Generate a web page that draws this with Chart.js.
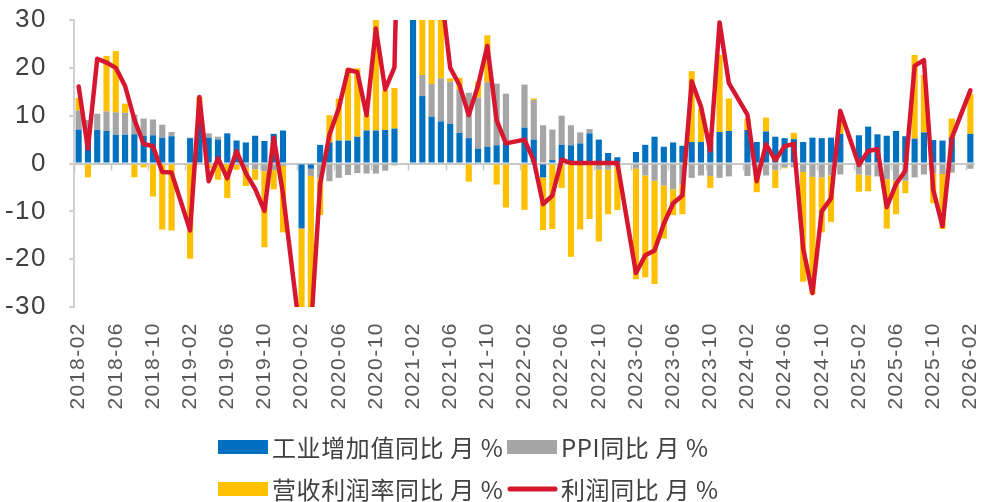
<!DOCTYPE html>
<html><head><meta charset="utf-8">
<script src="https://cdn.jsdelivr.net/npm/chart.js@4.4.1/dist/chart.umd.min.js"></script>
<style>html,body{margin:0;padding:0;background:#fff;}#wrap{width:994px;height:502px;position:relative;}</style>
</head><body><div id="wrap"><canvas id="c" width="994" height="502"></canvas></div>
<script>
const months = [
'2018-02','2018-03','2018-04','2018-05','2018-06','2018-07','2018-08','2018-09','2018-10','2018-11','2018-12',
'2019-01','2019-02','2019-03','2019-04','2019-05','2019-06','2019-07','2019-08','2019-09','2019-10','2019-11','2019-12',
'2020-01','2020-02','2020-03','2020-04','2020-05','2020-06','2020-07','2020-08','2020-09','2020-10','2020-11','2020-12',
'2021-01','2021-02','2021-03','2021-04','2021-05','2021-06','2021-07','2021-08','2021-09','2021-10','2021-11','2021-12',
'2022-01','2022-02','2022-03','2022-04','2022-05','2022-06','2022-07','2022-08','2022-09','2022-10','2022-11','2022-12',
'2023-01','2023-02','2023-03','2023-04','2023-05','2023-06','2023-07','2023-08','2023-09','2023-10','2023-11','2023-12',
'2024-01','2024-02','2024-03','2024-04','2024-05','2024-06','2024-07','2024-08','2024-09','2024-10','2024-11','2024-12',
'2025-01','2025-02','2025-03','2025-04','2025-05','2025-06','2025-07','2025-08','2025-09','2025-10','2025-11','2025-12',
'2026-01','2026-02'];

const tickLabels = ['2018-02','2018-06','2018-10','2019-02','2019-06','2019-10','2020-02','2020-06','2020-10',
'2021-02','2021-06','2021-10','2022-02','2022-06','2022-10','2023-02','2023-06','2023-10','2024-02','2024-06',
'2024-10','2025-02','2025-06','2025-10','2026-02'];

const yTicks = [30, 20, 10, 0, -10, -20, -30];

// 工业增加值同比
const ivaYoY = [
7.1,6.0,7.0,6.8,6.0,6.0,6.1,5.8,5.9,5.4,5.7,
null,5.3,8.5,5.4,5.0,6.3,4.8,4.4,5.8,4.7,6.2,6.9,
null,-13.5,-1.1,3.9,4.4,4.8,4.8,5.6,6.9,6.9,7.0,7.3,
null,35.1,14.1,9.8,8.8,8.3,6.4,5.3,3.1,3.5,3.8,4.3,
null,7.5,5.0,-2.9,0.7,3.9,3.8,4.2,6.3,5.0,2.2,1.3,
null,2.4,3.9,5.6,3.5,4.4,3.7,4.5,4.5,4.6,6.6,6.8,
null,7.0,4.5,6.7,5.6,5.3,5.1,4.5,5.4,5.3,5.4,6.2,
null,5.9,7.7,6.1,5.8,6.8,5.7,5.2,6.5,4.9,4.8,5.4,
null,6.2];

// PPI同比
const ppiYoY = [
4.0,3.1,3.4,4.1,4.7,4.6,4.1,3.6,3.3,2.7,0.9,
null,0.1,0.4,0.9,0.6,0.0,-0.3,-0.8,-1.2,-1.6,-1.4,-0.5,
null,-0.2,-1.5,-3.1,-3.7,-3.0,-2.4,-2.0,-2.1,-2.1,-1.5,-0.4,
null,1.0,4.4,6.8,9.0,8.8,9.0,9.5,10.7,13.5,12.9,10.3,
null,9.0,8.3,8.0,6.4,6.1,4.2,2.3,0.9,-1.3,-1.3,-0.7,
null,-1.1,-2.5,-3.6,-4.6,-5.4,-4.4,-3.0,-2.5,-2.6,-3.0,-2.7,
null,-2.6,-2.8,-2.5,-1.4,-0.8,-0.8,-1.8,-2.8,-2.9,-2.5,-2.3,
null,-2.3,-2.5,-2.7,-3.3,-3.6,-3.6,-2.9,-2.3,-2.1,-2.2,-1.9,
null,-1.1];

// 营收利润率同比
const marginYoY = [
2.6,-2.9,0.0,11.6,12.8,1.9,-2.9,-0.8,-6.9,-13.8,-14.0,
null,-19.9,5.0,-1.0,-3.4,-7.2,-1.0,-3.9,-2.2,-15.9,-4.0,-13.9,
null,-24.0,-32.0,-7.7,5.7,8.8,15.0,14.3,3.3,23.3,8.3,8.5,
null,40.0,40.0,40.0,18.0,0.7,2.5,-3.8,3.3,9.8,-4.4,-9.2,
null,-9.7,0.3,-11.0,-13.7,-5.1,-19.5,-13.8,-11.6,-15.0,-9.3,-9.0,
null,-23.1,-21.3,-21.6,-11.1,-5.4,-6.2,14.8,7.0,-2.5,16.1,6.8,
null,2.4,-3.2,2.9,-3.7,-0.2,1.3,-22.9,-24.5,-11.5,-9.7,3.0,
null,-3.6,-3.3,0.0,-10.3,-7.0,-2.6,17.5,12.0,-6.2,-11.5,4.0,
null,8.4];

// 利润同比
const profitYoY = [
16.1,3.1,21.9,21.1,20.0,16.2,9.2,4.1,3.6,-1.8,-1.9,
null,-14.0,13.9,-3.7,1.1,-3.1,2.6,-2.0,-5.3,-9.9,5.4,-6.3,
null,-38.3,-34.9,-4.3,6.0,11.5,19.6,19.1,10.1,28.2,15.5,20.1,
null,178.9,92.3,57.0,36.4,20.0,16.4,10.1,16.3,24.6,9.0,4.2,
null,5.0,0.6,-8.5,-6.7,0.8,0.1,0.1,0.1,0.1,0.1,0.1,
null,-22.9,-19.2,-18.2,-12.6,-8.3,-6.7,17.2,11.9,2.7,29.5,16.8,
null,10.2,-3.7,4.0,0.7,3.6,4.1,-17.8,-27.1,-10.0,-7.3,11.0,
null,-0.3,2.6,3.0,-9.1,-4.3,-1.5,20.4,21.6,-5.5,-13.1,5.3,
null,15.3];

const seriesNames = ['工业增加值同比 月 %', 'PPI同比 月 %', '营收利润率同比 月 %', '利润同比 月 %'];
const COLORS = { blue: '#0070c0', gray: '#a5a5a5', yellow: '#ffc000', red: '#d7172f' };

const axisTickPlugin = {
  id: 'axisTicks',
  beforeDatasetsDraw(chart) {
    const xs = chart.scales.x, ys = chart.scales.y, ctx = chart.ctx;
    const y0 = ys.getPixelForValue(0);
    const half = (xs.getPixelForValue(1) - xs.getPixelForValue(0)) / 2;
    ctx.save();
    ctx.strokeStyle = '#c8c8c8';
    ctx.lineWidth = 1.5;
    for (let i = 0; i < months.length; i++) {
      if (!tickLabels.includes(months[i])) continue;
      const x = Math.round(xs.getPixelForValue(i) - half) + 0.5;
      ctx.beginPath(); ctx.moveTo(x, y0); ctx.lineTo(x, y0 + 7); ctx.stroke();
    }
    ctx.restore();
  }
};

const spacingPlugin = {
  id: 'spacing',
  beforeDraw(chart) { chart.ctx.letterSpacing = '1.5px'; },
  afterDraw(chart) { chart.ctx.letterSpacing = '0px'; }
};

const legendPlugin = {
  id: 'customLegend',
  afterDraw(chart) {
    const ctx = chart.ctx;
    ctx.save();
    ctx.letterSpacing = '0.6px';
    ctx.font = '24px "Noto Sans CJK SC", "Liberation Sans", sans-serif';
    ctx.textBaseline = 'middle';
    ctx.textAlign = 'left';
    const items = [
      { x: 218, y: 447, kind: 'rect', color: COLORS.blue, text: seriesNames[0] },
      { x: 507, y: 447, kind: 'rect', color: COLORS.gray, text: seriesNames[1] },
      { x: 218, y: 489, kind: 'rect', color: COLORS.yellow, text: seriesNames[2] },
      { x: 507, y: 489, kind: 'line', color: COLORS.red, text: seriesNames[3] }
    ];
    items.forEach(it => {
      if (it.kind === 'rect') {
        ctx.fillStyle = it.color;
        ctx.fillRect(it.x, it.y - 7, 50, 14);
      } else {
        ctx.strokeStyle = it.color;
        ctx.lineWidth = 5;
        ctx.lineCap = 'round';
        ctx.beginPath(); ctx.moveTo(it.x + 3, it.y); ctx.lineTo(it.x + 48, it.y); ctx.stroke();
      }
      ctx.fillStyle = '#404040';
      ctx.fillText(it.text, it.x + 54, it.y + 1);
    });
    ctx.restore();
  }
};

new Chart(document.getElementById('c'), {
  type: 'bar',
  data: {
    labels: months,
    datasets: [
      { type: 'line', label: seriesNames[3], data: profitYoY, borderColor: COLORS.red, backgroundColor: COLORS.red,
        borderWidth: 4.5, pointRadius: 0, spanGaps: true, tension: 0, order: 0, stack: 'line',
        borderJoinStyle: 'round', borderCapStyle: 'round' },
      { label: seriesNames[0], data: ivaYoY, backgroundColor: COLORS.blue, order: 1, stack: 'bars',
        barPercentage: 0.66, categoryPercentage: 1.0 },
      { label: seriesNames[1], data: ppiYoY, backgroundColor: COLORS.gray, order: 1, stack: 'bars',
        barPercentage: 0.66, categoryPercentage: 1.0 },
      { label: seriesNames[2], data: marginYoY, backgroundColor: COLORS.yellow, order: 1, stack: 'bars',
        barPercentage: 0.66, categoryPercentage: 1.0 }
    ]
  },
  options: {
    responsive: false,
    animation: false,
    devicePixelRatio: 1,
    layout: { padding: { left: 0, right: 19, top: 20, bottom: 0 } },
    plugins: { legend: { display: false }, tooltip: { enabled: false } },
    scales: {
      x: {
        stacked: true,
        grid: { display: false },
        border: { display: false },
        ticks: {
          autoSkip: false, maxRotation: 90, minRotation: 90, padding: 7,
          color: '#595959',
          font: { family: '"Liberation Sans", Arial, sans-serif', size: 21 },
          callback: (v, i) => tickLabels.includes(months[i]) ? months[i] : ''
        },
        afterFit: s => { s.height = 195; s.paddingLeft = 0; s.paddingRight = 0; }
      },
      y: {
        stacked: true, min: -30, max: 30,
        afterBuildTicks: s => { s.ticks = yTicks.map(v => ({ value: v })); },
        ticks: {
          color: '#404040', padding: 22,
          font: { family: '"Liberation Sans", Arial, sans-serif', size: 26 }
        },
        grid: {
          color: c => (c.tick && c.tick.value === 0) ? '#c8c8c8' : 'rgba(0,0,0,0)',
          lineWidth: 2, drawTicks: true, tickLength: 5, tickColor: '#d0d0d0'
        },
        border: { display: true, color: '#d0d0d0', width: 2 },
        afterFit: s => { s.width = 74; s.paddingTop = 10; s.paddingBottom = 10; }
      }
    }
  },
  plugins: [spacingPlugin, axisTickPlugin, legendPlugin]
});
</script>
</body></html>
